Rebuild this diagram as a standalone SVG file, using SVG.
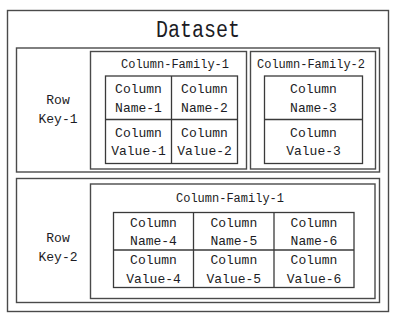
<svg xmlns="http://www.w3.org/2000/svg" width="400" height="320" viewBox="0 0 400 320">
<style>
.box{fill:none;stroke:#4a4a4a;stroke-width:1.4}
.grid{fill:none;stroke:#3a3a3a;stroke-width:1.3}
text{font-family:"Liberation Mono","DejaVu Sans Mono",monospace;fill:#1c1c24;text-anchor:middle}
.t{font-size:23px}
.c{font-size:13px}
.f{font-size:12px}
</style>
<rect width="400" height="320" fill="#ffffff"/>
<g id="dataset">
<rect class="box" x="7.5" y="10.5" width="381" height="301"/>
<text class="t" x="198" y="37" textLength="84" lengthAdjust="spacingAndGlyphs">Dataset</text>
</g>
<g id="row1">
<rect class="box" x="16.5" y="48" width="363" height="124"/>
<text class="c" x="58" y="104">Row</text>
<text class="c" x="58" y="123">Key-1</text>
</g>
<g id="row1-cf1">
<rect class="box" x="90.5" y="51.5" width="156" height="117.5"/>
<text class="f" x="175" y="67.5">Column-Family-1</text>
<rect class="grid" x="105.5" y="76" width="132" height="87.5"/>
<line class="grid" x1="171.5" y1="76" x2="171.5" y2="163.5"/>
<line class="grid" x1="105.5" y1="119.5" x2="237.5" y2="119.5"/>
<text class="c" x="138.5" y="92.5">Column</text>
<text class="c" x="138.5" y="111.5">Name-1</text>
<text class="c" x="138.5" y="137">Column</text>
<text class="c" x="138.5" y="155">Value-1</text>
<text class="c" x="204.5" y="92.5">Column</text>
<text class="c" x="204.5" y="111.5">Name-2</text>
<text class="c" x="204.5" y="137">Column</text>
<text class="c" x="204.5" y="155">Value-2</text>
</g>
<g id="row1-cf2">
<rect class="box" x="250.5" y="51.5" width="125" height="117.5"/>
<text class="f" x="311" y="67.5">Column-Family-2</text>
<rect class="grid" x="264.5" y="76" width="98" height="87.5"/>
<line class="grid" x1="264.5" y1="119.5" x2="362.5" y2="119.5"/>
<text class="c" x="313.5" y="92.5">Column</text>
<text class="c" x="313.5" y="111.5">Name-3</text>
<text class="c" x="313.5" y="137">Column</text>
<text class="c" x="313.5" y="155">Value-3</text>
</g>
<g id="row2">
<rect class="box" x="16.5" y="178.5" width="363" height="124"/>
<text class="c" x="58" y="241.5">Row</text>
<text class="c" x="58" y="260.5">Key-2</text>
</g>
<g id="row2-cf1">
<rect class="box" x="90.5" y="184" width="284.5" height="114.5"/>
<text class="f" x="230" y="201.5">Column-Family-1</text>
<rect class="grid" x="113.5" y="212.5" width="240.5" height="75"/>
<line class="grid" x1="193.5" y1="212.5" x2="193.5" y2="287.5"/>
<line class="grid" x1="274" y1="212.5" x2="274" y2="287.5"/>
<line class="grid" x1="113.5" y1="250" x2="354" y2="250"/>
<text class="c" x="153.5" y="226.5">Column</text>
<text class="c" x="153.5" y="245">Name-4</text>
<text class="c" x="153.5" y="264">Column</text>
<text class="c" x="153.5" y="283">Value-4</text>
<text class="c" x="233.8" y="226.5">Column</text>
<text class="c" x="233.8" y="245">Name-5</text>
<text class="c" x="233.8" y="264">Column</text>
<text class="c" x="233.8" y="283">Value-5</text>
<text class="c" x="314" y="226.5">Column</text>
<text class="c" x="314" y="245">Name-6</text>
<text class="c" x="314" y="264">Column</text>
<text class="c" x="314" y="283">Value-6</text>
</g>
<g id="connectors"></g>
</svg>
